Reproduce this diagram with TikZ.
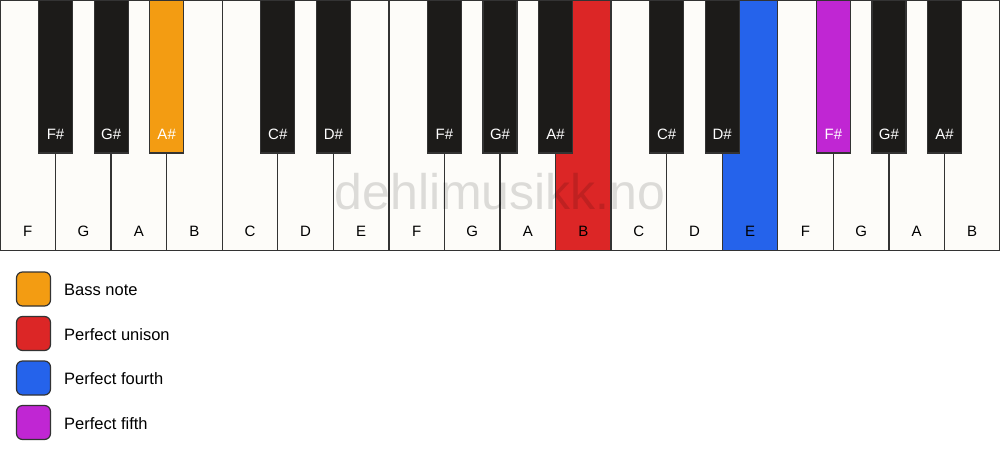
\documentclass[tikz,border=0pt]{standalone}
\usepackage{fontspec}
\setmainfont{Liberation Sans}
\usetikzlibrary{calc}
\definecolor{keyborder}{HTML}{333333}
\definecolor{wkey}{HTML}{FDFCF9}
\definecolor{bkey}{HTML}{1C1B19}
\definecolor{bass}{HTML}{F39C12}
\definecolor{unison}{HTML}{DC2626}
\definecolor{fourth}{HTML}{2563EB}
\definecolor{fifth}{HTML}{C026D3}
\tikzset{
  whitekey/.style={rectangle, draw=keyborder, line width=1.3pt, minimum width=55.556pt, minimum height=250pt, anchor=north west, inner sep=0pt, outer sep=0pt},
  blackkey/.style={rectangle, draw=keyborder, line width=1.2pt, minimum width=34pt, minimum height=153pt, anchor=north, inner sep=0pt, outer sep=0pt},
  wlabel/.style={anchor=base, font=\fontsize{15}{18}\selectfont, text=black, inner sep=0pt},
  blabel/.style={anchor=base, font=\fontsize{15}{18}\selectfont, text=white, inner sep=0pt},
  watermark/.style={font=\fontsize{50}{58}\selectfont, text=black, text opacity=0.13, inner sep=0pt},
  legbox/.style={rectangle, rounded corners=6pt, draw=keyborder, line width=1.2pt, minimum width=34pt, minimum height=34pt, inner sep=0pt},
  legtext/.style={anchor=base west, font=\fontsize{16.5}{20}\selectfont, text=black, inner sep=0pt},
}
\begin{document}
\begin{tikzpicture}[x=1pt,y=-1pt]
\useasboundingbox (0,0) rectangle (1000,461);
\fill[white] (0,0) rectangle (1000,461);
% white keys
\foreach \n/\c [count=\i from 0] in {F/wkey,G/wkey,A/wkey,B/wkey,C/wkey,D/wkey,E/wkey,F/wkey,G/wkey,A/wkey,B/unison,C/wkey,D/wkey,E/fourth,F/wkey,G/wkey,A/wkey,B/wkey}{
  \node[whitekey, fill=\c] (w\i) at (\i*55.556,0.6) {};
  \node[wlabel] (wl\i) at ($(w\i.south)+(0,-14)$) {\n};
}
% watermark
\node[watermark] (wm) at (500,192) {dehlimusikk.no};
% black keys
\foreach \b/\n/\c in {1/F/bkey,2/G/bkey,3/A/bass,5/C/bkey,6/D/bkey,8/F/bkey,9/G/bkey,10/A/bkey,12/C/bkey,13/D/bkey,15/F/fifth,16/G/bkey,17/A/bkey}{
  \node[blackkey, fill=\c] (b\b) at (\b*55.556,0) {};
  \node[blabel] (bl\b) at ($(b\b.south)+(0,-14)$) {\n\#};
}
% legend
\foreach \t/\c [count=\i from 0] in {Bass note/bass,Perfect unison/unison,Perfect fourth/fourth,Perfect fifth/fifth}{
  \node[legbox, fill=\c] (lb\i) at (33.5,289+\i*44.5) {};
  \node[legtext] (lt\i) at (64,295.5+\i*44.5) {\t};
}
\end{tikzpicture}
\end{document}
